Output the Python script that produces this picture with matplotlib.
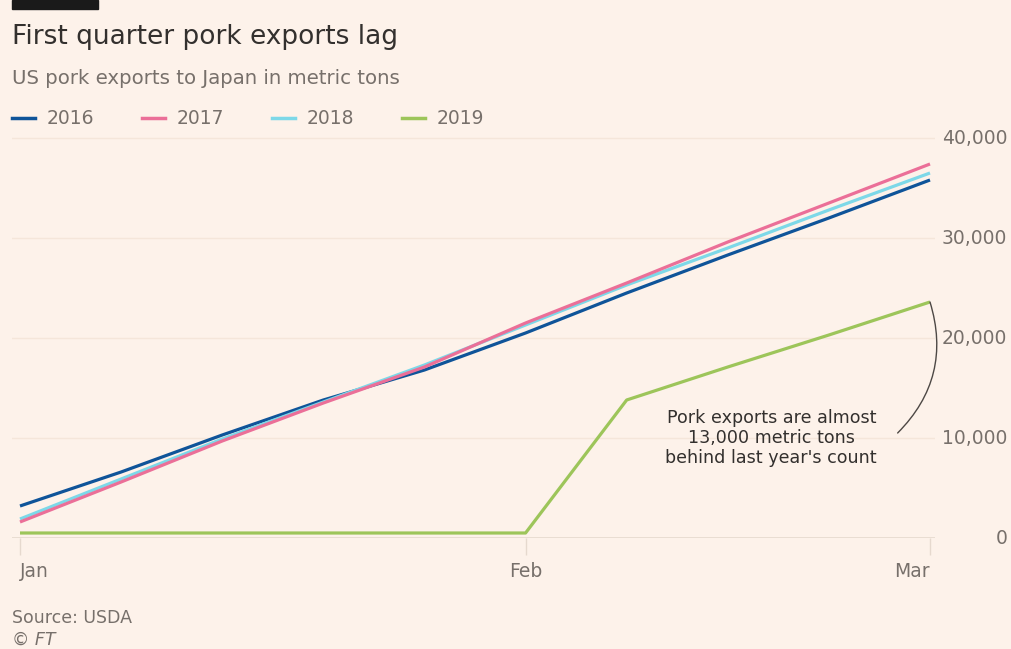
import matplotlib
matplotlib.use("Agg")
import matplotlib.pyplot as plt
from matplotlib.patches import Rectangle

plt.rcParams['font.family'] = ['DejaVu Sans']

# weekly cumulative exports, first week of Jan through first week of Mar
weeks = list(range(10))
series = {
    '2016': [3200, 6600, 10300, 13800, 16800, 20500, 24500, 28300, 32000, 35800],
    '2017': [1600, 5600, 9700, 13500, 17100, 21500, 25500, 29600, 33500, 37400],
    '2018': [1900, 5900, 9900, 13600, 17300, 21300, 25300, 29000, 32800, 36500],
    '2019': [500, 500, 500, 500, 500, 500, 13800, 17100, 20300, 23600],
}
colors = {'2016': '#0f5499', '2017': '#eb6f98', '2018': '#7dd8e8', '2019': '#9dc55a'}
month_pos = [0, 5, 9]
month_labels = ['Jan', 'Feb', 'Mar']
yticks = [0, 10000, 20000, 30000, 40000]

bg = '#fdf2ea'
grey = '#77706b'
W, H = 1011, 649
fig = plt.figure(figsize=(W / 100, H / 100), dpi=100, facecolor=bg)
ax = fig.add_axes([12 / W, 1 - 538 / H, (935 - 12) / W, 405 / H], facecolor=bg)

for yr in ['2016', '2018', '2017', '2019']:
    ax.plot(weeks, series[yr], color=colors[yr], lw=2.3, solid_capstyle='butt',
            clip_on=False, zorder=3)

ax.set_xlim(-8 / 101.1, 9 + 5 / 101.1)
ax.set_ylim(0, 40500)

for s in ax.spines.values():
    s.set_visible(False)
ax.axhline(0, color='#e6d9ce', lw=1.2, zorder=1)
for y in yticks[1:]:
    ax.axhline(y, color='#f5e6da', lw=1, zorder=1)

ax.set_xticks(month_pos)
ax.set_xticklabels(month_labels)
ax.tick_params(axis='x', length=12, width=1, color='#e6d9ce', labelsize=13.5,
               labelcolor=grey, pad=5)
for lab, ha in zip(ax.get_xticklabels(), ['left', 'center', 'right']):
    lab.set_horizontalalignment(ha)

ax.yaxis.tick_right()
ax.set_yticks(yticks)
ax.set_yticklabels([f'{v:,}' for v in yticks])
ax.tick_params(axis='y', length=0, labelsize=13.5, labelcolor=grey, pad=52)
for lab in ax.get_yticklabels():
    lab.set_horizontalalignment('right')
    lab.set_verticalalignment('center')

# annotation on the 2019 line
ax.annotate('', xy=(9, series['2019'][-1]), xytext=(8.68, 10500),
            arrowprops=dict(arrowstyle='-', color='#4d4845', lw=1,
                            connectionstyle='arc3,rad=0.3', shrinkA=0, shrinkB=0))
ax.text(7.43, 10000, "Pork exports are almost\n13,000 metric tons\nbehind last year's count",
        ha='center', va='center', fontsize=12.6, color='#33302e', linespacing=1.15)

# header
fig.patches.append(Rectangle((12 / W, 1 - 9 / H), 86 / W, 9 / H,
                             transform=fig.transFigure, color='#1a1a1a'))
fig.text(12 / W, 1 - 37 / H, 'First quarter pork exports lag', fontsize=19,
         color='#33302e', va='center')
fig.text(12 / W, 1 - 78 / H, 'US pork exports to Japan in metric tons', fontsize=14.2,
         color=grey, va='center')

legend_x = [12, 142, 272, 402]
for yr, lx in zip(series, legend_x):
    fig.add_artist(plt.Line2D([lx / W, (lx + 23) / W], [1 - 118 / H] * 2,
                              color=colors[yr], lw=2.5))
    fig.text((lx + 35) / W, 1 - 118 / H, yr, fontsize=13.5, color=grey, va='center')

fig.text(12 / W, 1 - 618 / H, 'Source: USDA', fontsize=12.5, color=grey, va='center')
fig.text(12 / W, 1 - 640 / H, '© FT', fontsize=12.5, color=grey, va='center',
         style='italic')

fig.savefig('out.png', dpi=100, facecolor=bg)
